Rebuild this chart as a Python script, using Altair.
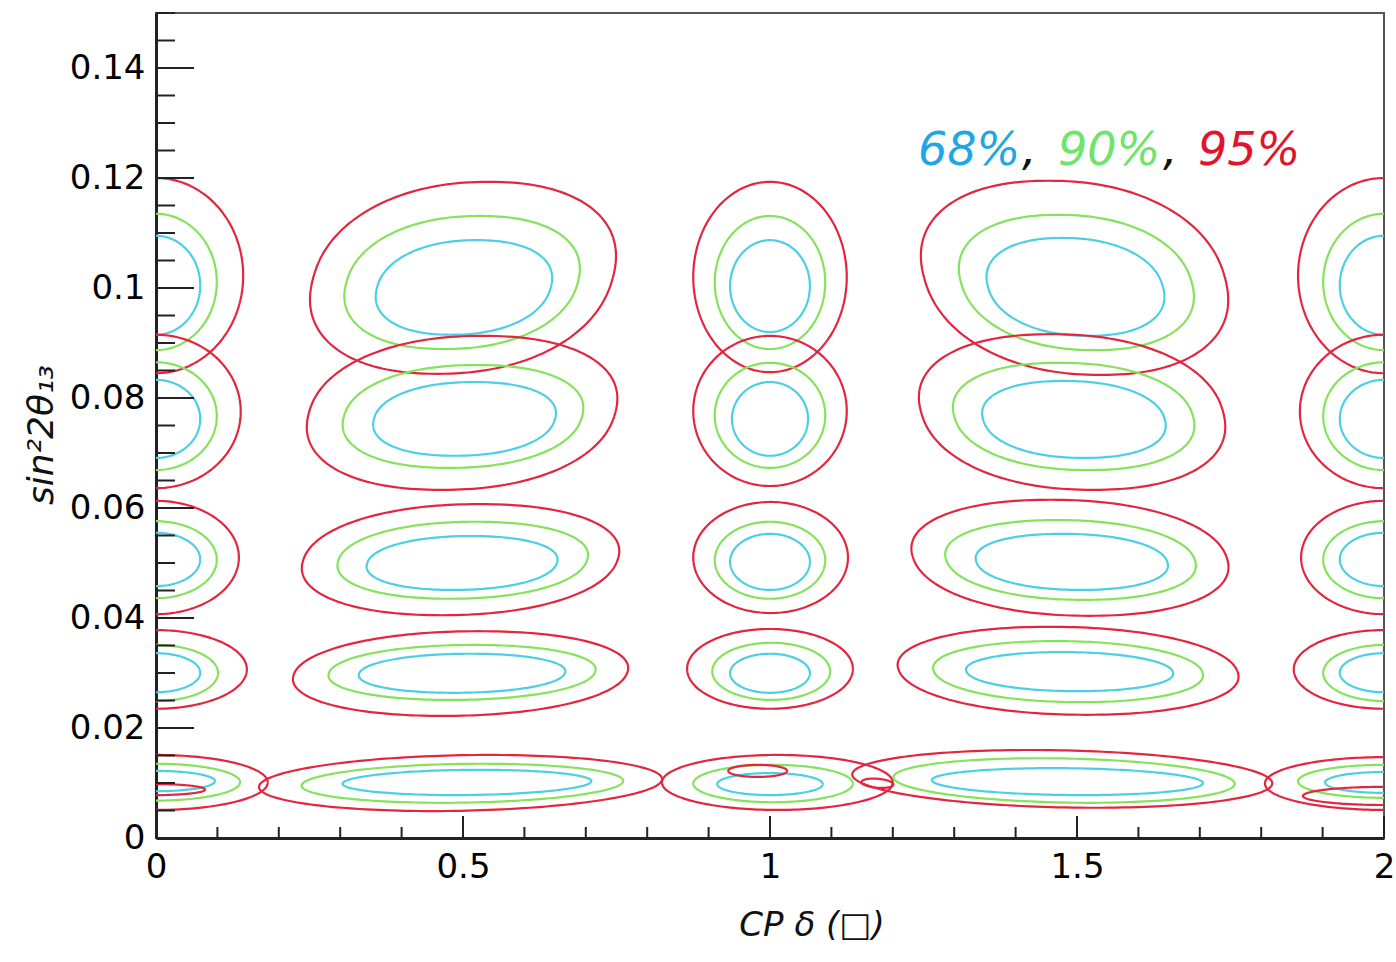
import altair as alt
import numpy as np
import pandas as pd

# ---------------- data ----------------
LEVELS = ["68%", "90%", "95%"]
LEVEL_COLORS = ["#4ccfe4", "#86e25c", "#e3263f"]

# each contour: (level, delta_min, delta_max, s2t_min, s2t_max, tilt)
ROW_010 = [
    ("68%", -0.072, 0.072, 0.0915, 0.1095, 0.0), ("90%", -0.099, 0.099, 0.0887, 0.1135, 0.0), ("95%", -0.142, 0.142, 0.0845, 0.1200, 0.0),
    ("68%", 0.360, 0.643, 0.0915, 0.1087, 2.4), ("90%", 0.310, 0.687, 0.0889, 0.1131, 2.4), ("95%", 0.256, 0.744, 0.0844, 0.1193, 2.4),
    ("68%", 0.935, 1.065, 0.0920, 0.1087, 0.0), ("90%", 0.910, 1.090, 0.0889, 0.1131, 0.0), ("95%", 0.875, 1.125, 0.0847, 0.1193, 0.0),
    ("68%", 1.355, 1.640, 0.0913, 0.1091, -2.4), ("90%", 1.311, 1.687, 0.0887, 0.1133, -2.4), ("95%", 1.251, 1.741, 0.0842, 0.1195, -2.4),
    ("68%", 1.928, 2.072, 0.0915, 0.1095, 0.0), ("90%", 1.901, 2.099, 0.0887, 0.1135, 0.0), ("95%", 1.860, 2.140, 0.0845, 0.1200, 0.0),
]
ROW_008 = [
    ("68%", -0.072, 0.072, 0.0691, 0.0833, 0.0), ("90%", -0.099, 0.099, 0.0669, 0.0865, 0.0), ("95%", -0.138, 0.138, 0.0636, 0.0915, 0.0),
    ("68%", 0.355, 0.650, 0.0695, 0.0829, 2.4), ("90%", 0.306, 0.694, 0.0673, 0.0860, 2.4), ("95%", 0.249, 0.748, 0.0633, 0.0913, 2.4),
    ("68%", 0.938, 1.062, 0.0695, 0.0829, 0.0), ("90%", 0.910, 1.090, 0.0673, 0.0864, 0.0), ("95%", 0.875, 1.125, 0.0640, 0.0913, 0.0),
    ("68%", 1.347, 1.643, 0.0691, 0.0831, -2.4), ("90%", 1.300, 1.689, 0.0669, 0.0864, -2.4), ("95%", 1.246, 1.738, 0.0633, 0.0916, -2.4),
    ("68%", 1.928, 2.072, 0.0691, 0.0833, 0.0), ("90%", 1.901, 2.099, 0.0669, 0.0865, 0.0), ("95%", 1.863, 2.137, 0.0636, 0.0915, 0.0),
]
ROW_005 = [
    ("68%", -0.072, 0.072, 0.0458, 0.0555, 0.0), ("90%", -0.099, 0.099, 0.0436, 0.0576, 0.0), ("95%", -0.135, 0.135, 0.0407, 0.0613, 0.0),
    ("68%", 0.344, 0.653, 0.0451, 0.0549, 3.0), ("90%", 0.297, 0.702, 0.0435, 0.0575, 3.0), ("95%", 0.240, 0.752, 0.0405, 0.0607, 3.0),
    ("68%", 0.935, 1.065, 0.0451, 0.0553, 0.0), ("90%", 0.910, 1.090, 0.0435, 0.0575, 0.0), ("95%", 0.875, 1.127, 0.0409, 0.0611, 0.0),
    ("68%", 1.336, 1.647, 0.0451, 0.0553, -3.0), ("90%", 1.287, 1.692, 0.0433, 0.0578, -3.0), ("95%", 1.233, 1.744, 0.0404, 0.0615, -3.0),
    ("68%", 1.928, 2.072, 0.0458, 0.0555, 0.0), ("90%", 1.901, 2.099, 0.0436, 0.0576, 0.0), ("95%", 1.865, 2.135, 0.0407, 0.0613, 0.0),
]
ROW_003 = [
    ("68%", -0.072, 0.072, 0.0265, 0.0336, 0.0), ("90%", -0.101, 0.101, 0.0249, 0.0351, 0.0), ("95%", -0.148, 0.148, 0.0235, 0.0378, 0.0),
    ("68%", 0.331, 0.666, 0.0264, 0.0335, 3.8), ("90%", 0.282, 0.715, 0.0251, 0.0351, 3.8), ("95%", 0.225, 0.767, 0.0222, 0.0376, 3.8),
    ("68%", 0.935, 1.065, 0.0264, 0.0335, 0.0), ("90%", 0.906, 1.098, 0.0251, 0.0355, 0.0), ("95%", 0.865, 1.135, 0.0235, 0.0380, 0.0),
    ("68%", 1.320, 1.656, 0.0267, 0.0338, -3.8), ("90%", 1.267, 1.704, 0.0247, 0.0358, -3.8), ("95%", 1.210, 1.761, 0.0224, 0.0384, -3.8),
    ("68%", 1.928, 2.072, 0.0265, 0.0336, 0.0), ("90%", 1.901, 2.099, 0.0249, 0.0351, 0.0), ("95%", 1.853, 2.147, 0.0235, 0.0378, 0.0),
]
ROW_001 = [
    ("68%", -0.096, 0.096, 0.0085, 0.0122, 0.0), ("90%", -0.137, 0.137, 0.0068, 0.0135, 0.0), ("95%", -0.182, 0.182, 0.0051, 0.0151, 0.0),
    ("95%", -0.080, 0.080, 0.0078, 0.0098, 0.0),
    ("68%", 0.305, 0.708, 0.0078, 0.0124, 9.0), ("90%", 0.239, 0.759, 0.0064, 0.0135, 9.0), ("95%", 0.171, 0.821, 0.0049, 0.0151, 9.0),
    ("68%", 0.914, 1.086, 0.0078, 0.0118, 0.0), ("90%", 0.875, 1.135, 0.0065, 0.0133, 0.0), ("95%", 0.824, 1.200, 0.0051, 0.0151, 0.0),
    ("95%", 0.932, 1.028, 0.0111, 0.0133, 0.0),
    ("68%", 1.265, 1.704, 0.0078, 0.0127, -10.0), ("90%", 1.204, 1.754, 0.0064, 0.0145, -10.0), ("95%", 1.138, 1.814, 0.0055, 0.0160, -10.0),
    ("95%", 1.150, 1.200, 0.0091, 0.0108, -8.0),
    ("68%", 1.904, 2.096, 0.0082, 0.0120, 0.0), ("90%", 1.860, 2.140, 0.0073, 0.0133, 0.0), ("95%", 1.806, 2.194, 0.0051, 0.0147, 0.0),
    ("95%", 1.868, 2.132, 0.0060, 0.0093, 0.0),
]
# roundness of the tilted (egg-like) outlines per row (2 = ellipse, larger = boxier)
ROW_SHAPE = [2.2, 2.2, 2.15, 2.1, 2.0]

X_MAJOR = [0, 0.5, 1, 1.5, 2]
X_MINOR = [0.1, 0.2, 0.3, 0.4, 0.6, 0.7, 0.8, 0.9, 1.1, 1.2, 1.3, 1.4, 1.6, 1.7, 1.8, 1.9]
Y_MAJOR = [0, 0.02, 0.04, 0.06, 0.08, 0.1, 0.12, 0.14]
Y_MINOR = [0.005, 0.01, 0.015, 0.025, 0.03, 0.035, 0.045, 0.05, 0.055, 0.065, 0.07, 0.075,
           0.085, 0.09, 0.095, 0.105, 0.11, 0.115, 0.125, 0.13, 0.135, 0.145, 0.15]

# ---------------- build contour outlines ----------------
THETA = np.linspace(0, 2 * np.pi, 181)
recs = []
cid = 0
for group, pshape in zip([ROW_010, ROW_008, ROW_005, ROW_003, ROW_001], ROW_SHAPE):
    for (lvl, x0, x1, y0, y1, tilt) in group:
        p = pshape if tilt != 0 else 2.0
        cx, cy = (x0 + x1) / 2, (y0 + y1) / 2
        hx, hy = (x1 - x0) / 2, (y1 - y0) / 2
        for i, t in enumerate(THETA):
            c, s = np.cos(t), np.sin(t)
            cc = np.sign(c) * np.abs(c) ** (2 / p)
            ss = np.sign(s) * np.abs(s) ** (2 / p)
            yy = cy + hy * ss
            xx = cx + hx * cc + tilt * (yy - cy)
            recs.append({"cid": cid, "i": i, "level": lvl, "x": xx, "y": yy})
        cid += 1
df = pd.DataFrame(recs)

W, H = 1228, 825
xs = alt.Scale(domain=[0, 2], nice=False, zero=False)
ys = alt.Scale(domain=[0, 0.15], nice=False, zero=False)
FONT = "DejaVu Sans"

X_AXIS = alt.Axis(
    values=X_MAJOR, format="~g", ticks=False, grid=False, title=None,
    domain=True, domainColor="#222", domainWidth=3,
    labelFont=FONT, labelFontSize=34, labelColor="#000", labelPadding=12,
    labelFlush=False, labelOverlap=False)
Y_AXIS = alt.Axis(
    values=Y_MAJOR, format="~g", ticks=False, grid=False, title=None,
    domain=True, domainColor="#222", domainWidth=3,
    labelFont=FONT, labelFontSize=34, labelColor="#000", labelPadding=11,
    labelFlush=False, labelOverlap=False)

contours = alt.Chart(df).mark_line(strokeWidth=2.2, clip=True).encode(
    x=alt.X("x:Q", scale=xs, axis=X_AXIS),
    y=alt.Y("y:Q", scale=ys, axis=Y_AXIS),
    color=alt.Color("level:N", scale=alt.Scale(domain=LEVELS, range=LEVEL_COLORS), legend=None),
    detail="cid:N",
    order="i:Q",
)

def yticks(vals, length):
    return alt.Chart(pd.DataFrame({"y": vals})).mark_rule(color="#222", strokeWidth=2).encode(
        y=alt.Y("y:Q", scale=ys, axis=Y_AXIS), x=alt.value(0), x2=alt.value(length))

def xticks(vals, length):
    return alt.Chart(pd.DataFrame({"x": vals})).mark_rule(color="#222", strokeWidth=2).encode(
        x=alt.X("x:Q", scale=xs, axis=X_AXIS), y=alt.value(H), y2=alt.value(H - length))

one = pd.DataFrame({"a": [0]})

def label(text, px, py, color, size, angle=0, align="left", style="italic", baseline="alphabetic"):
    return alt.Chart(one).mark_text(
        text=text, color=color, fontSize=size, font=FONT, fontStyle=style,
        align=align, baseline=baseline, angle=angle,
    ).encode(x=alt.value(px), y=alt.value(py))

legend_parts = [
    label("68%", 762, 152, "#1fa6e6", 46),
    label(",", 866, 152, "#111111", 46),
    label("90%", 902, 152, "#6ee46a", 46),
    label(",", 1007, 152, "#111111", 46),
    label("95%", 1042, 152, "#e0142a", 46),
]

ytitle = label("sin²2θ₁₃", -114, 422, "#111111", 36, angle=270, align="center", baseline="middle")
xtitle = label("CP δ (□)", 656, 913, "#111111", 34, align="center", baseline="middle")

chart = alt.layer(
    contours,
    yticks(Y_MAJOR, 38), yticks(Y_MINOR, 19),
    xticks(X_MAJOR, 22), xticks(X_MINOR, 11),
    *legend_parts, ytitle, xtitle,
).properties(
    width=W, height=H,
    autosize=alt.AutoSizeParams(type="none"),
    padding={"left": 156, "top": 13, "right": 12, "bottom": 124},
    background="white",
).configure_view(stroke="#555", strokeWidth=2)

chart.save("out.html", embed_options={"renderer": "svg", "actions": False})
